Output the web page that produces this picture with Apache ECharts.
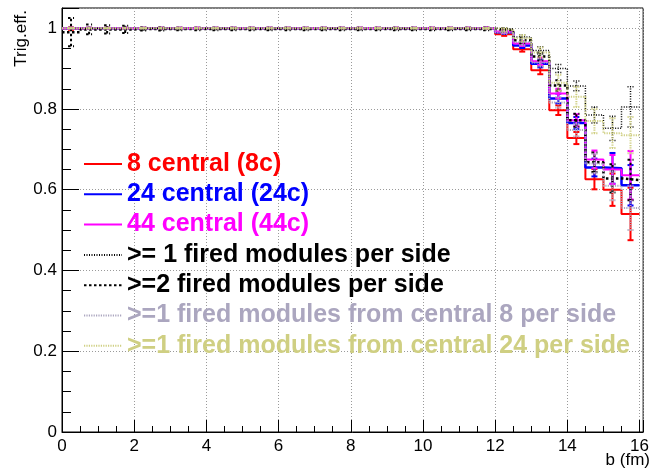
<!DOCTYPE html>
<html>
<head>
<meta charset="utf-8">
<script src="https://cdn.jsdelivr.net/npm/echarts@6/dist/echarts.min.js"></script>
<style>
html,body{margin:0;padding:0;background:#fff;}
#chart{width:652px;height:469px;}
</style>
</head>
<body>
<div id="chart"></div>
<script>
// Bin left edges (fm), bin width 0.5
var binLeft = [0,0.5,1,1.5,2,2.5,3,3.5,4,4.5,5,5.5,6,6.5,7,7.5,8,8.5,9,9.5,10,10.5,11,11.5,12,12.5,13,13.5,14,14.5,15,15.5];
var binWidth = 0.5;

var names = [
  "8 central (8c)",
  "24 central (24c)",
  "44 central (44c)",
  ">= 1 fired modules per side",
  ">=2 fired modules per side",
  ">=1 fired modules from central 8 per side",
  ">=1 fired modules from central 24 per side"
];

var eff8c = [0.999,1,1,1,1,1,1,1,1,1,1,1,1,1,1,1,1,1,1,1,1,1,1,1,
             0.985,0.948,0.896,0.797,0.728,0.626,0.600,0.540];
var err8c = [0.003,0.001,0.001,0.001,0.001,0.001,0.001,0.001,0.001,0.001,0.001,0.001,0.001,0.001,0.001,0.001,0.001,0.001,0.001,0.001,0.001,0.001,0.001,0.002,
             0.004,0.006,0.010,0.012,0.015,0.025,0.040,0.065];

var eff24c = [1,1,1,1,1,1,1,1,1,1,1,1,1,1,1,1,1,1,1,1,1,1,1,1,
              0.990,0.957,0.912,0.826,0.765,0.655,0.653,0.611];
var err24c = [0.001,0.001,0.001,0.001,0.001,0.001,0.001,0.001,0.001,0.001,0.001,0.001,0.001,0.001,0.001,0.001,0.001,0.001,0.001,0.001,0.001,0.001,0.001,0.002,
              0.004,0.006,0.009,0.012,0.015,0.022,0.038,0.050];

var eff44c = [1,1,1,1,1,1,1,1,1,1,1,1,1,1,1,1,1,1,1,1,1,1,1,1,
              0.992,0.962,0.918,0.838,0.772,0.675,0.650,0.636];
var err44c = [0.001,0.001,0.001,0.001,0.001,0.001,0.001,0.001,0.001,0.001,0.001,0.001,0.001,0.001,0.001,0.001,0.001,0.001,0.001,0.001,0.001,0.001,0.001,0.002,
              0.004,0.006,0.009,0.012,0.015,0.022,0.036,0.060];

var effGe1 = [1,1,1,1,1,1,1,1,1,1,1,1,1,1,1,1,1,1,1,1,1,1,1,1,
              0.998,0.978,0.945,0.900,0.857,0.785,0.752,0.805];
var errGe1 = [0.001,0.001,0.001,0.001,0.001,0.001,0.001,0.001,0.001,0.001,0.001,0.001,0.001,0.001,0.001,0.001,0.001,0.001,0.001,0.001,0.001,0.001,0.001,0.002,
              0.003,0.006,0.009,0.010,0.012,0.020,0.030,0.050];

var effGe2 = [0.990,0.997,0.997,0.997,0.998,0.998,0.998,0.998,0.998,0.998,0.998,0.998,0.998,0.998,0.998,0.998,0.998,0.998,0.998,0.998,0.998,0.998,0.998,0.998,
              0.995,0.970,0.930,0.858,0.772,0.668,0.628,0.624];
var errGe2 = [0.035,0.012,0.010,0.009,0.004,0.004,0.003,0.003,0.003,0.003,0.003,0.003,0.003,0.003,0.003,0.003,0.003,0.003,0.003,0.003,0.003,0.003,0.003,0.003,
              0.004,0.007,0.010,0.013,0.016,0.024,0.035,0.050];

var effC8 = [1,1,1,1,1,1,1,1,1,1,1,1,1,1,1,1,1,1,1,1,1,1,1,1,
             0.990,0.965,0.915,0.816,0.748,0.665,0.610,0.555];
var errC8 = [0.001,0.001,0.001,0.001,0.001,0.001,0.001,0.001,0.001,0.001,0.001,0.001,0.001,0.001,0.001,0.001,0.001,0.001,0.001,0.001,0.001,0.001,0.001,0.002,
             0.004,0.007,0.010,0.013,0.016,0.024,0.036,0.055];

var effC24 = [1,1,1,1,1,1,1,1,1,1,1,1,1,1,1,1,1,1,1,1,1,1,1,1,
              0.996,0.975,0.940,0.865,0.830,0.770,0.740,0.735];
var errC24 = [0.001,0.001,0.001,0.001,0.001,0.001,0.001,0.001,0.001,0.001,0.001,0.001,0.001,0.001,0.001,0.001,0.001,0.001,0.001,0.001,0.001,0.001,0.001,0.002,
              0.004,0.008,0.012,0.020,0.025,0.030,0.037,0.045];

var xTickLabels = ["0","2","4","6","8","10","12","14","16"];
var yTickLabels = ["0","0.2","0.4","0.6","0.8","1"];

var effs = [eff8c, eff24c, eff44c, effGe1, effGe2, effC8, effC24];
var errs = [err8c, err24c, err44c, errGe1, errGe2, errC8, errC24];
var colors = ["#ff0000","#0000ff","#ff00ff","#000000","#000000","#aba6bf","#cfcf82"];
var widths = [2, 2.5, 2, 1.5, 2.5, 2, 2];
var dashes = ["solid","solid","solid",[1,1.5],[2.5,2.5],[1.2,1.2],[1.2,1.2]];

var FONT = "Liberation Sans, Arial, Helvetica, sans-serif";

var series = [];
effs.forEach(function (vals, k) {
  var pts = binLeft.map(function (x, i) { return [x, vals[i]]; });
  pts.push([binLeft[binLeft.length - 1] + binWidth, vals[vals.length - 1]]);
  series.push({
    name: names[k],
    type: "line",
    step: "end",
    data: pts,
    symbol: "none",
    showSymbol: false,
    clip: true,
    lineStyle: { color: colors[k], width: widths[k], type: dashes[k] },
    itemStyle: { color: colors[k] },
    z: 2 + k
  });
});
effs.forEach(function (vals, k) {
  var ed = binLeft.map(function (x, i) {
    return [x + binWidth / 2, vals[i] - errs[k][i], vals[i] + errs[k][i]];
  });
  series.push({
    name: "err" + k,
    type: "custom",
    clip: true,
    encode: { x: 0, y: [1, 2] },
    data: ed,
    z: 2 + k,
    silent: true,
    renderItem: (function (col, w, dash) {
      return function (params, api) {
        var x = api.value(0);
        var lo = api.coord([x, api.value(1)]);
        var hi = api.coord([x, api.value(2)]);
        var st = { stroke: col, lineWidth: w, lineDash: dash === "solid" ? null : dash };
        var c = 3;
        return {
          type: "group",
          children: [
            { type: "line", shape: { x1: lo[0], y1: lo[1], x2: hi[0], y2: hi[1] }, style: st },
            { type: "line", shape: { x1: lo[0] - c, y1: lo[1], x2: lo[0] + c, y2: lo[1] }, style: st },
            { type: "line", shape: { x1: hi[0] - c, y1: hi[1], x2: hi[0] + c, y2: hi[1] }, style: st }
          ]
        };
      };
    })(colors[k], widths[k] > 2 ? 2 : widths[k], dashes[k])
  });
});

function pickLabel(list, step) {
  return function (v) {
    var i = Math.round(v / step);
    if (Math.abs(v - i * step) > 1e-6 || i >= list.length) return "";
    return list[i];
  };
}

var chart = echarts.init(document.getElementById("chart"), null, { renderer: "canvas" });
chart.setOption({
  animation: false,
  backgroundColor: "#ffffff",
  textStyle: { fontFamily: FONT },
  grid: { left: 62, right: -1, top: 8, bottom: 37, show: true, borderColor: "#000", borderWidth: 1, backgroundColor: "transparent" },
  xAxis: [{
    type: "value", min: 0, max: 16.1, interval: 2,
    axisLine: { show: true, onZero: false, lineStyle: { color: "#000", width: 1 } },
    axisTick: { show: true, inside: true, length: 12, lineStyle: { color: "#000" } },
    axisLabel: { show: true, margin: 6, color: "#000", fontSize: 17, fontFamily: FONT, showMaxLabel: true,
                 formatter: pickLabel(xTickLabels, 2) },
    splitLine: { show: true, lineStyle: { color: "#9a9a9a", width: 1, type: [1, 2] } }
  }, {
    type: "value", min: 0, max: 16.1, interval: 0.5, position: "bottom",
    axisLine: { show: false },
    axisTick: { show: true, inside: true, length: 6, lineStyle: { color: "#000" } },
    axisLabel: { show: false },
    splitLine: { show: false }
  }],
  yAxis: [{
    type: "value", min: 0, max: 1.05, interval: 0.2,
    axisLine: { show: true, onZero: false, lineStyle: { color: "#000", width: 1 } },
    axisTick: { show: true, inside: true, length: 17, lineStyle: { color: "#000" } },
    axisLabel: { show: true, margin: 5, color: "#000", fontSize: 17, fontFamily: FONT,
                 formatter: pickLabel(yTickLabels, 0.2) },
    splitLine: { show: true, lineStyle: { color: "#9a9a9a", width: 1, type: [1, 2] } }
  }, {
    type: "value", min: 0, max: 1.05, interval: 0.05, position: "left",
    axisLine: { show: false },
    axisTick: { show: true, inside: true, length: 9, lineStyle: { color: "#000" } },
    axisLabel: { show: false },
    splitLine: { show: false }
  }],
  legend: {
    orient: "vertical",
    left: 83,
    top: 151.5,
    padding: 0,
    itemWidth: 38,
    itemHeight: 14,
    itemGap: 5.3,
    selectedMode: false,
    itemStyle: { opacity: 0 },
    textStyle: { fontSize: 25, fontWeight: "bold", fontFamily: FONT, lineHeight: 25 },
    data: names.map(function (n, k) {
      return { name: n, textStyle: { color: colors[k] } };
    })
  },
  graphic: [
    { type: "text", x: 21, y: 10, rotation: Math.PI / 2,
      style: { text: "Trig.eff.", font: "17px " + FONT, fill: "#000", align: "right", verticalAlign: "middle" } },
    { type: "text", x: 650, y: 460,
      style: { text: "b (fm)", font: "17px " + FONT, fill: "#000", align: "right", verticalAlign: "middle" } }
  ],
  series: series
});
</script>
</body>
</html>
